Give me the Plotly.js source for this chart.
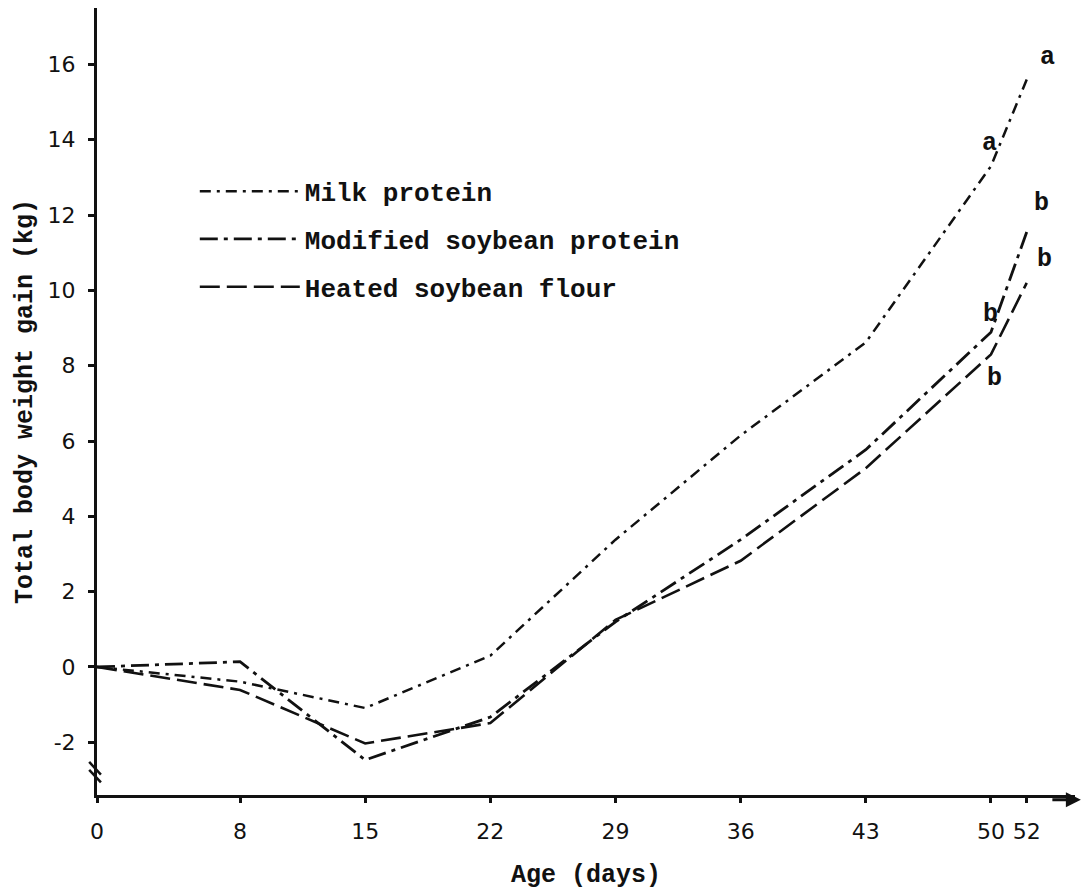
<!DOCTYPE html>
<html>
<head>
<meta charset="utf-8">
<script src="https://cdn.plot.ly/plotly-3.0.1.min.js"></script>
<style>html,body{margin:0;padding:0;background:#fff;}#chart{width:1083px;height:890px;}</style>
</head>
<body>
<div id="chart"></div>
<script>
const days = [0, 8, 15, 22, 29, 36, 43, 50, 52];
const milkProtein = [0, -0.39, -1.09, 0.3, 3.38, 6.15, 8.62, 13.3, 15.6];
const modifiedSoy = [0, 0.14, -2.47, -1.33, 1.2, 3.38, 5.77, 8.89, 11.55];
const heatedSoyFlour = [0, -0.61, -2.03, -1.49, 1.25, 2.82, 5.28, 8.3, 10.2];
const seriesNames = ["Milk protein", "Modified soybean protein", "Heated soybean flour"];
const xTicks = [0, 8, 15, 22, 29, 36, 43, 50, 52];
const yTicks = [-2, 0, 2, 4, 6, 8, 10, 12, 14, 16];
const sigLetters = {
  milk: [[50, "a"], [52, "a"]],
  modified: [[50, "b"], [52, "b"]],
  heated: [[50, "b"], [52, "b"]]
};

const mono = "Liberation Mono, Courier New, monospace";
const sans = "DejaVu Sans, Liberation Sans, sans-serif";

const traces = [
  {x: days, y: milkProtein, name: seriesNames[0], mode: "lines", legendgroup: "g1",
   line: {color: "#111", width: 2.5, dash: "11px,6px,3px,6px"}},
  {x: days, y: modifiedSoy, name: seriesNames[1], mode: "lines", legendgroup: "g2",
   line: {color: "#111", width: 2.8, dash: "18px,6px,4px,6px"}},
  {x: days, y: heatedSoyFlour, name: seriesNames[2], mode: "lines", legendgroup: "g3",
   line: {color: "#111", width: 2.6, dash: "20px,7px"}}
];

function valAt(arr, d) { return arr[days.indexOf(d)]; }
const annotations = [];
const offs = {
  milk: {50: [-1, 23], 52: [21, 22]},
  modified: {50: [0, 18], 52: [15, 29]},
  heated: {50: [4, -24], 52: [18, 23]}
};
const arrs = {milk: milkProtein, modified: modifiedSoy, heated: heatedSoyFlour};
for (const k of Object.keys(sigLetters)) {
  for (const [d, t] of sigLetters[k]) {
    annotations.push({x: d, y: valAt(arrs[k], d), text: t, showarrow: false,
      xshift: offs[k][d][0], yshift: offs[k][d][1],
      font: {family: mono, size: 25, color: "#111", weight: "bold"}});
  }
}
// x-axis arrowhead
annotations.push({xref: "paper", yref: "paper", x: 1.006, y: -0.006, ax: -30, ay: 0,
  text: "", showarrow: true, arrowhead: 2, arrowsize: 1, arrowwidth: 3, arrowcolor: "#111"});

const shapes = [
  {type: "line", xref: "paper", yref: "paper", x0: -0.008, x1: 0.004, y0: 0.042, y1: 0.026, line: {color: "#111", width: 2.5}},
  {type: "line", xref: "paper", yref: "paper", x0: -0.008, x1: 0.004, y0: 0.032, y1: 0.016, line: {color: "#111", width: 2.5}}
];

const layout = {
  width: 1083, height: 890,
  margin: {l: 97, r: 8, t: 8, b: 95},
  paper_bgcolor: "#fff", plot_bgcolor: "#fff",
  showlegend: true,
  legend: {x: 0.1, y: 0.797, xanchor: "left", yanchor: "top", bgcolor: "rgba(0,0,0,0)",
    itemwidth: 100, tracegroupgap: 11,
    font: {family: mono, size: 26, color: "#111", weight: "bold"}},
  xaxis: {range: [0, 54.7], tickvals: xTicks, ticktext: xTicks.map(String),
    showgrid: false, zeroline: false, showline: true, linecolor: "#111", linewidth: 3,
    ticks: "outside", ticklen: 5, tickwidth: 3, tickcolor: "#111",
    ticklabelstandoff: 10,
    tickfont: {family: sans, size: 22, color: "#111"},
    title: {text: "Age (days)", standoff: 24,
      font: {family: mono, size: 25, color: "#111", weight: "bold"}}},
  yaxis: {range: [-3.4, 17.5], tickvals: yTicks, ticktext: yTicks.map(String),
    showgrid: false, zeroline: false, showline: true, linecolor: "#111", linewidth: 3,
    ticks: "outside", ticklen: 6, tickwidth: 3, tickcolor: "#111",
    ticklabelstandoff: 8,
    tickfont: {family: sans, size: 22, color: "#111"},
    title: {text: "Total body weight gain (kg)", standoff: 8,
      font: {family: mono, size: 25, color: "#111", weight: "bold"}}},
  annotations: annotations,
  shapes: shapes
};

Plotly.newPlot("chart", traces, layout, {displayModeBar: false, staticPlot: true});
</script>
</body>
</html>
